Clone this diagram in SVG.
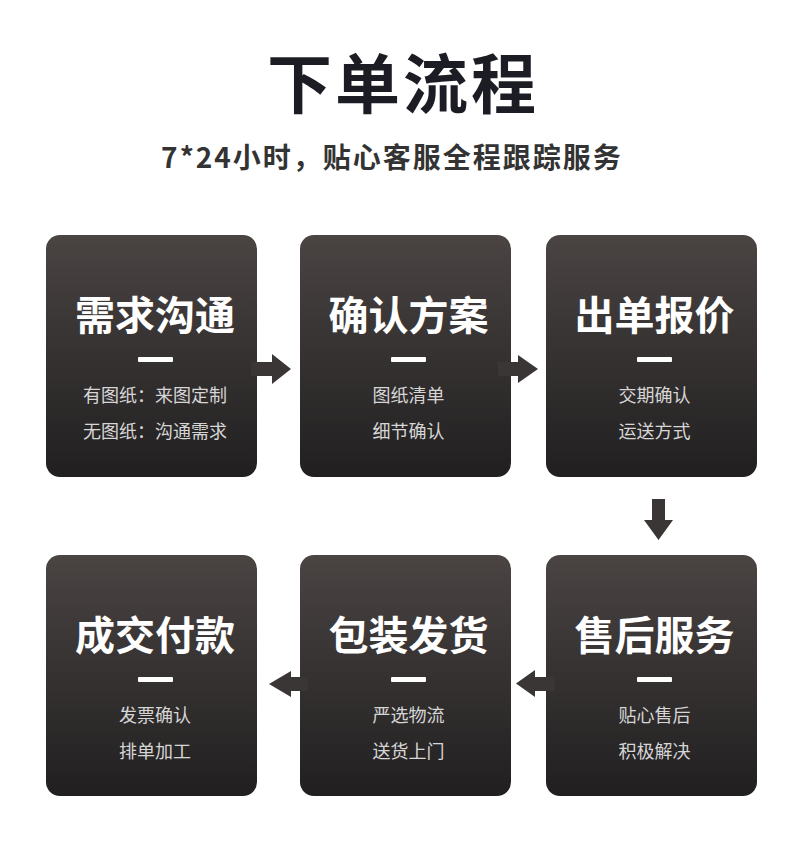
<svg xmlns="http://www.w3.org/2000/svg" width="800" height="853" viewBox="0 0 800 853">
<defs>
<linearGradient id="cardGrad" x1="0" y1="0" x2="0" y2="1">
<stop offset="0" stop-color="#4a4443"/>
<stop offset="1" stop-color="#211f20"/>
</linearGradient>
<style>
.card{fill:url(#cardGrad);}
.t{font-family:"Noto Sans CJK SC","Noto Sans",sans-serif;font-weight:700;font-size:40px;fill:#ffffff;text-anchor:middle;}
.s{font-family:"Noto Sans CJK SC","Noto Sans",sans-serif;font-weight:400;font-size:18px;fill:#d6d6d6;text-anchor:middle;}
.dash{fill:#ffffff;}
.arrow{fill:#3a3636;}
</style>
</defs>
<rect width="800" height="853" fill="#ffffff"/>
<text x="403" y="108" font-family="'Noto Sans CJK SC','Noto Sans',sans-serif" font-weight="700" font-size="65" letter-spacing="3" fill="#1c1c24" text-anchor="middle">下单流程</text>
<text x="392" y="168" font-family="'Noto Sans CJK SC','Noto Sans',sans-serif" font-weight="700" font-size="28" letter-spacing="2" fill="#333333" text-anchor="middle">7*24小时，贴心客服全程跟踪服务</text>

<g id="node1">
<rect class="card" x="46" y="235" width="211" height="242" rx="14"/>
<text class="t" x="155" y="330">需求沟通</text>
<rect class="dash" x="138" y="357" width="35" height="5" rx="1"/>
<text class="s" x="155" y="402">有图纸：来图定制</text>
<text class="s" x="155" y="438">无图纸：沟通需求</text>
</g>
<g id="node2">
<rect class="card" x="300" y="235" width="211" height="242" rx="14"/>
<text class="t" x="408.5" y="330">确认方案</text>
<rect class="dash" x="391" y="357" width="35" height="5" rx="1"/>
<text class="s" x="408.5" y="402">图纸清单</text>
<text class="s" x="408.5" y="438">细节确认</text>
</g>
<g id="node3">
<rect class="card" x="546" y="235" width="211" height="242" rx="14"/>
<text class="t" x="654.5" y="330">出单报价</text>
<rect class="dash" x="637" y="357" width="35" height="5" rx="1"/>
<text class="s" x="654.5" y="402">交期确认</text>
<text class="s" x="654.5" y="438">运送方式</text>
</g>
<g id="node4">
<rect class="card" x="546" y="555" width="211" height="241" rx="14"/>
<text class="t" x="654.5" y="650">售后服务</text>
<rect class="dash" x="637" y="677" width="35" height="5" rx="1"/>
<text class="s" x="654.5" y="722">贴心售后</text>
<text class="s" x="654.5" y="758">积极解决</text>
</g>
<g id="node5">
<rect class="card" x="300" y="555" width="211" height="241" rx="14"/>
<text class="t" x="408.5" y="650">包装发货</text>
<rect class="dash" x="391" y="677" width="35" height="5" rx="1"/>
<text class="s" x="408.5" y="722">严选物流</text>
<text class="s" x="408.5" y="758">送货上门</text>
</g>
<g id="node6">
<rect class="card" x="46" y="555" width="211" height="241" rx="14"/>
<text class="t" x="155" y="650">成交付款</text>
<rect class="dash" x="138" y="677" width="35" height="5" rx="1"/>
<text class="s" x="155" y="722">发票确认</text>
<text class="s" x="155" y="758">排单加工</text>
</g>

<g id="connectors">
<polygon class="arrow" points="251,362 272,362 272,354 291,369 272,384 272,376 251,376"/>
<polygon class="arrow" points="498,362 518,362 518,355 538,369 518,383 518,376 498,376"/>
<polygon class="arrow" points="652,499 665,499 665,520 673,520 658.5,540 644,520 652,520"/>
<polygon class="arrow" points="555,677 535,677 535,670 516,683.5 535,697 535,691 555,691"/>
<polygon class="arrow" points="308,677 291,677 291,671 269,684 291,697 291,691 308,691"/>
</g>
</svg>
